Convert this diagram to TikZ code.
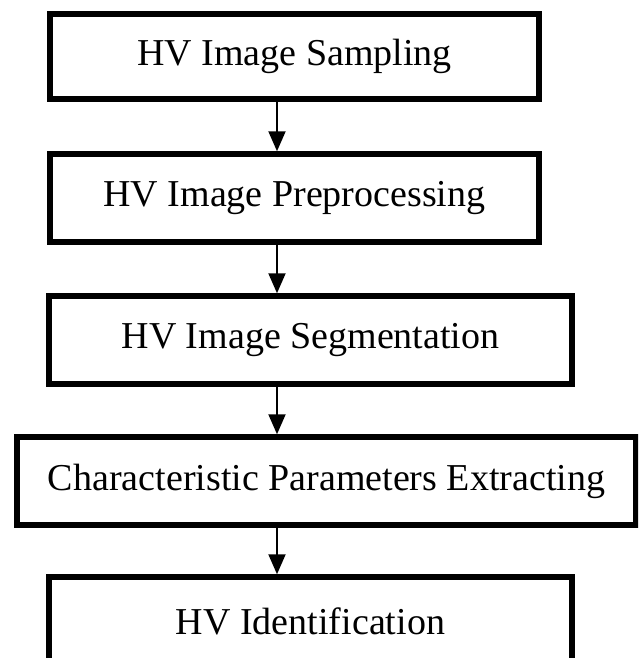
\documentclass[tikz,border=0pt]{standalone}
\usepackage{fontspec}
\setmainfont{Liberation Serif}
\usetikzlibrary{arrows.meta}
\begin{document}
\begin{tikzpicture}[x=1pt,y=-1pt,
        stage/.style={draw,line width=5.5pt,inner sep=0pt,minimum height=88pt,
            font=\fontsize{38}{46}\selectfont},
        flow/.style={line width=2pt,-{Triangle[width=17pt,length=20pt]}}]
        \useasboundingbox (0,0) rectangle (638,658);
        \clip (0,0) rectangle (638,658);
        %% stages
        \node[stage,minimum width=489pt,minimum height=85pt] (sampling) at (294.5,56.5) {HV Image Sampling};
        \node[stage,minimum width=489pt] (preproc) at (294.5,198) {HV Image Preprocessing};
        \node[stage,minimum width=523pt] (segment) at (310.5,340) {HV Image Segmentation};
        \node[stage,minimum width=619pt] (extract) at (326.5,481) {Characteristic Parameters Extracting};
        \node[stage,minimum width=523pt] (ident) at (310.5,621) {HV Identification};
        %% arrows
        \coordinate (axis) at (277,0);
        \foreach \a/\b in {sampling/preproc,preproc/segment,segment/extract,extract/ident}
            \draw[flow] (\a.south -| axis) -- (\b.north -| axis);
    \end{tikzpicture}
\end{document}
